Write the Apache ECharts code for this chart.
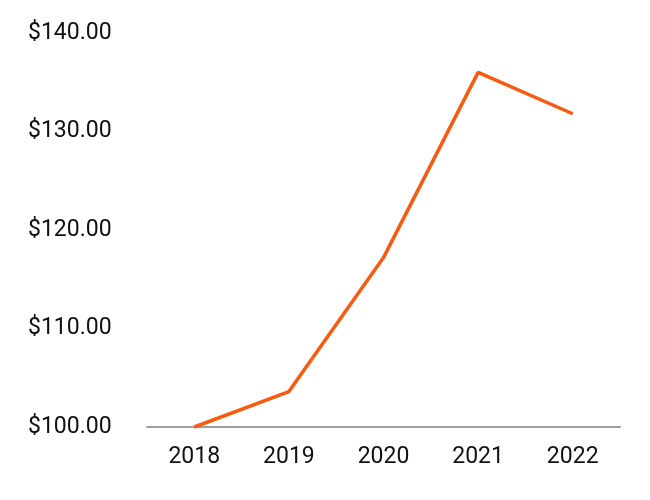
<!DOCTYPE html>
<html><head><meta charset="utf-8">
<script src="https://cdn.jsdelivr.net/npm/echarts@6/dist/echarts.min.js"></script>
<style>html,body{margin:0;padding:0;background:#fff}#c{width:650px;height:500px}</style>
</head><body><div id="c"></div>
<script>
const categories = ['2018', '2019', '2020', '2021', '2022'];
const values = [100.0, 103.6, 117.2, 136.0, 131.8];
const yTicks = [100, 110, 120, 130, 140];

const chart = echarts.init(document.getElementById('c'), null, {renderer: 'canvas'});
chart.setOption({
  animation: false,
  grid: {left: 147, right: 30, top: 33, bottom: 73},
  xAxis: {
    type: 'category',
    data: categories,
    boundaryGap: true,
    axisLine: {lineStyle: {color: '#9e9e9e', width: 2}},
    axisTick: {show: false},
    axisLabel: {color: '#111', fontFamily: 'Roboto', fontSize: 23, margin: 19}
  },
  yAxis: {
    type: 'value',
    min: yTicks[0],
    max: yTicks[yTicks.length - 1],
    interval: 10,
    axisLine: {show: false},
    axisTick: {show: false},
    splitLine: {show: false},
    axisLabel: {
      color: '#111', fontFamily: 'Roboto', fontSize: 23,
      align: 'left', margin: 119,
      formatter: v => '$' + v.toFixed(2)
    }
  },
  series: [{
    type: 'line',
    data: values,
    showSymbol: false,
    lineStyle: {color: '#FA5A0F', width: 3.5},
    z: 1
  }]
});
</script></body></html>
